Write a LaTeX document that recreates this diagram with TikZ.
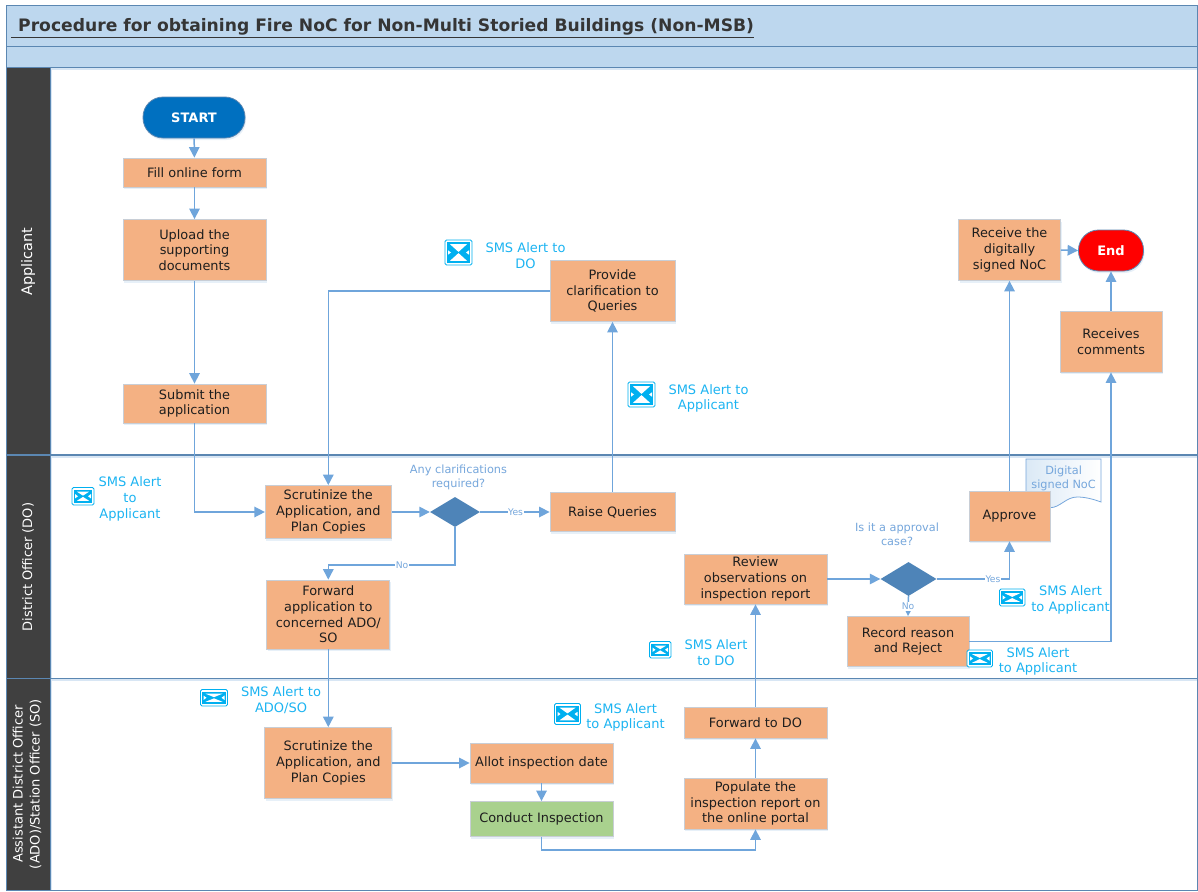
\documentclass[tikz,border=0pt]{standalone}
\usepackage{fontspec}
\setmainfont{DejaVu Sans}
\usetikzlibrary{arrows.meta,shapes.geometric,shadows}
\definecolor{band}{HTML}{BDD7EE}
\definecolor{frameblue}{HTML}{5B87B2}
\definecolor{lanedark}{HTML}{404040}
\definecolor{boxorange}{HTML}{F4B183}
\definecolor{boxgreen}{HTML}{A9D18E}
\definecolor{boxedge}{HTML}{C8CED6}
\definecolor{diamondblue}{HTML}{4E84B8}
\definecolor{linkblue}{HTML}{6FA5DB}
\definecolor{labelblue}{HTML}{76A7DC}
\definecolor{smscyan}{HTML}{1CB4F2}
\definecolor{iconcyan}{HTML}{00B0F0}
\definecolor{startblue}{HTML}{0070C0}
\definecolor{glow}{HTML}{D8E6F4}
\definecolor{inktext}{HTML}{1E1E1E}
\tikzset{
  x=1pt,y=-1pt,
  softshadow/.style={drop shadow={shadow xshift=1pt,shadow yshift=-2pt,fill=glow,opacity=.6}},
  procbox/.style={draw=boxedge,line width=.8pt,fill=boxorange,text=inktext,align=center,inner sep=0pt,softshadow,
    font=\fontsize{12.9}{15.7}\selectfont,execute at begin node=\vspace*{1pt}},
  greenbox/.style={procbox,fill=boxgreen},
  pill/.style={draw=frameblue,line width=.8pt,rounded corners=20pt,text=white,inner sep=0pt,softshadow,
    font=\fontsize{13}{15.5}\selectfont\bfseries},
  decision/.style={diamond,fill=diamondblue,inner sep=0pt,draw=none},
  link/.style={draw=linkblue,line width=1.5pt,-{Triangle[length=10.5pt,width=10.5pt]}},
  smstext/.style={text=smscyan,align=center,inner sep=0pt,font=\fontsize{13}{15.8}\selectfont},
  asktext/.style={text=labelblue,align=center,inner sep=0pt,font=\fontsize{11.3}{14}\selectfont},
  branchlabel/.style={text=labelblue,fill=white,inner xsep=.6pt,inner ysep=1.5pt,font=\fontsize{9.2}{11}\selectfont},
  lanetext/.style={text=white,align=center,inner sep=0pt,rotate=90,font=\fontsize{13}{17}\selectfont},
}
\newcommand{\smsicon}[4]{%
  \fill[white,draw=iconcyan,line width=.8pt,rounded corners=1.5pt] (#1,#2) rectangle (#3,#4);
  \fill[iconcyan] (#1+1.8,#2+2.4) rectangle (#3-1.8,#4-2.4);
  \fill[white] (#1+5,#2+4.2) -- (#3-5,#2+4.2) -- ({(#1+#3)/2},{(#2+#4)/2-.6}) -- cycle;
  \fill[white] (#1+5,#4-4.2) -- (#3-5,#4-4.2) -- ({(#1+#3)/2},{(#2+#4)/2+.6}) -- cycle;
  \fill[white] (#1+3,{(#2+#4)/2-2.2}) -- (#1+6,{(#2+#4)/2}) -- (#1+3,{(#2+#4)/2+2.2}) -- cycle;
  \fill[white] (#3-3,{(#2+#4)/2-2.2}) -- (#3-6,{(#2+#4)/2}) -- (#3-3,{(#2+#4)/2+2.2}) -- cycle;
}
\begin{document}
\begin{tikzpicture}
\useasboundingbox (0,0) rectangle (1198,891);
\fill[white] (0,0) rectangle (1198,891);
% bands
\fill[band] (6,6) rectangle (1197,67);
% lane header
\fill[lanedark] (6,67) rectangle (50,890);
% shadows of lane rules
\fill[glow] (50,67) rectangle (1197,70);
\fill[glow] (50,456) rectangle (1197,458);
\fill[glow] (50,679) rectangle (1197,681);
\fill[glow] (50,70) rectangle (52,890);
% rules
\draw[frameblue,line width=1pt] (6,6) rectangle (1197,890);
\draw[frameblue,line width=1pt] (6,47) -- (1197,47);
\draw[frameblue,line width=1pt] (6,67) -- (1197,67);
\draw[frameblue,line width=1.2pt] (6,455) -- (1197,455);
\draw[frameblue,line width=1pt] (6,678.5) -- (1197,678.5);
\draw[frameblue,line width=1pt] (50,67) -- (50,890);
% title
\node[anchor=west,inner sep=0pt,text=inktext!90!white,font=\fontsize{17.15}{20}\selectfont\bfseries] (title) at (11,28) {\underline{\hspace{7pt}Procedure for obtaining Fire NoC for Non-Multi Storied Buildings (Non-MSB)}};
% lane titles
\node[lanetext,font=\fontsize{14.5}{17}\selectfont] (laneA) at (28,261.5) {Applicant};
\node[lanetext] (laneD) at (28,567) {District Officer (DO)};
\node[lanetext] (laneS) at (27,784) {Assistant District Officer\\(ADO)/Station Officer (SO)};
% document
\path[draw=labelblue,line width=.8pt,left color=band!55!white,middle color=white,right color=white] (1026,459) -- (1101,459) -- (1101,502)
  .. controls (1093,499) and (1085,497) .. (1077,497) .. controls (1066,497) and (1060,507.7) .. (1050,507.7) -- (1026,507.7) -- cycle;
\node[asktext] (docnote) at (1063.6,478) {Digital\\signed NoC};
% process nodes
\node[pill,fill=startblue,minimum width=102pt,minimum height=41pt] (start) at (194,117.5) {START};
\node[procbox,minimum width=143pt,minimum height=29pt] (fill) at (194.5,172.5) {Fill online form};
\node[procbox,minimum width=143pt,minimum height=61pt] (upload) at (194.5,250) {Upload the\\supporting\\documents};
\node[procbox,minimum width=143pt,minimum height=39pt] (submit) at (194.5,403.5) {Submit the\\application};
\node[procbox,minimum width=126pt,minimum height=53pt] (scrutA) at (328.3,512) {Scrutinize the\\Application, and\\Plan Copies};
\node[decision,minimum width=50pt,minimum height=30pt] (askA) at (455,512) {};
\node[procbox,minimum width=125pt,minimum height=39pt] (raise) at (612.5,512) {Raise Queries};
\node[procbox,minimum width=125pt,minimum height=61pt] (provide) at (612.5,291) {Provide\\clarification to\\Queries};
\node[procbox,minimum width=123pt,minimum height=69pt] (forward) at (328.3,614.5) {Forward\\application to\\concerned ADO/\\SO};
\node[procbox,minimum width=127pt,minimum height=71pt] (scrutB) at (328.3,763) {Scrutinize the\\Application, and\\Plan Copies};
\node[procbox,minimum width=143pt,minimum height=40pt] (allot) at (541.5,763) {Allot inspection date};
\node[greenbox,minimum width=143pt,minimum height=35pt] (conduct) at (541.5,819) {Conduct Inspection};
\node[procbox,minimum width=143pt,minimum height=51pt] (populate) at (755.5,803.5) {Populate the\\inspection report on\\the online portal};
\node[procbox,minimum width=143pt,minimum height=31pt] (fwdDO) at (755.5,722.5) {Forward to DO};
\node[procbox,minimum width=143pt,minimum height=50pt] (review) at (755.5,579) {Review\\observations on\\inspection report};
\node[decision,minimum width=56pt,minimum height=34pt] (askB) at (908.5,579) {};
\node[procbox,minimum width=81pt,minimum height=50pt] (approve) at (1009.5,516) {Approve};
\node[procbox,minimum width=122pt,minimum height=50pt] (record) at (908,641.5) {Record reason\\and Reject};
\node[procbox,minimum width=102pt,minimum height=61pt] (receive) at (1009.5,250) {Receive the\\digitally\\signed NoC};
\node[pill,fill=red,minimum width=65pt,minimum height=41pt] (end) at (1111,250.5) {End};
\node[procbox,minimum width=102pt,minimum height=61pt] (comments) at (1111,341.5) {Receives\\comments};
% connector bends and labels
\coordinate (bendA) at (402,565);
\draw[link] (start) -- (fill);
\draw[link] (fill) -- (upload);
\draw[link] (upload) -- (submit);
\draw[link] (submit.south) |- (scrutA.west);
\draw[link] (provide.west) -| (scrutA.north);
\draw[link] (scrutA.east) -- (askA.west);
\draw[link] (askA.east) -- node[branchlabel,pos=.51] (yesA) {Yes} (raise.west);
\draw[link] (raise.north) -- (provide.south);
\draw[link] (askA.south) |- (bendA) -| (forward.north);
\node[branchlabel] (noA) at (bendA) {No};
\draw[link] (forward.south) -- (scrutB.north);
\draw[link] (scrutB.east) -- (allot.west);
\draw[link] (allot.south) -- (conduct.north);
\coordinate (bendB) at (648,850);
\draw[link] (conduct.south) |- (bendB) -| (populate.south);
\draw[link] (populate.north) -- (fwdDO.south);
\draw[link] (fwdDO.north) -- (review.south);
\draw[link] (review.east) -- (askB.west);
\coordinate (yesSpot) at (993,579);
\draw[link] (askB.east) -| (approve.south);
\node[branchlabel] (yesB) at (yesSpot) {Yes};
\draw[link] (askB.south) -- (record.north);
\coordinate (noSpot) at (908,606.5);
\node[branchlabel] (noB) at (noSpot) {No};
\draw[link] (approve.north) -- (receive.south);
\draw[link] (record.east) -| (comments.south);
\draw[link] (receive.east) -- (end.west);
\draw[link] (comments.north) -- (end.south);
% question labels
\node[asktext] (askAtext) at (458.5,477) {Any clarifications\\required?};
\node[asktext] (askBtext) at (897,534) {Is it a approval\\case?};
% SMS alerts
\smsicon{445}{240}{472}{265}
\node[smstext] (smsA) at (525.5,256) {SMS Alert to\\DO};
\smsicon{628}{382}{655}{407}
\node[smstext] (smsB) at (708.5,398.5) {SMS Alert to\\Applicant};
\smsicon{72}{487.5}{94}{505}
\node[smstext] (smsC) at (130,499) {SMS Alert\\to\\Applicant};
\smsicon{200.5}{689.5}{227.5}{706}
\node[smstext] (smsD) at (281,700.5) {SMS Alert to\\ADO/SO};
\smsicon{554.5}{703.5}{580.5}{724.5}
\node[smstext] (smsE) at (625.5,717.5) {SMS Alert\\to Applicant};
\smsicon{649.5}{641.5}{671}{658}
\node[smstext] (smsF) at (716,652.5) {SMS Alert\\to DO};
\smsicon{999.5}{589}{1025}{606}
\node[smstext] (smsG) at (1070.5,600) {SMS Alert\\to Applicant};
\smsicon{967}{650}{992.5}{667}
\node[smstext] (smsH) at (1038,661.5) {SMS Alert\\to Applicant};
\end{tikzpicture}
\end{document}
